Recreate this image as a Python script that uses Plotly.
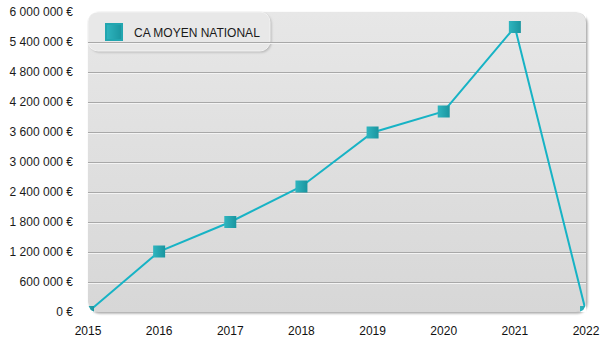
import base64
import plotly.graph_objects as go

# Average national turnover per year
years = [2015, 2016, 2017, 2018, 2019, 2020, 2021, 2022]
ca_moyen = [0, 1210000, 1800000, 2510000, 3590000, 4010000, 5700000, 0]
series_name = "CA MOYEN NATIONAL"
y_ticks = [0, 600000, 1200000, 1800000, 2400000, 3000000,
           3600000, 4200000, 4800000, 5400000, 6000000]
y_labels = [f"{v:,}".replace(",", " ") + " €" for v in y_ticks]

FIG_W, FIG_H = 600, 350
L, T, R, B = 88, 12, 14, 38
PW, PH = FIG_W - L - R, FIG_H - T - B
RAD = 10

LINE_COLOR = "#17b3c5"
MARKER_LIGHT, MARKER_DARK = "#2fb5bf", "#1a959f"
FONT = "Arial, Liberation Sans, sans-serif"

# Rounded plot panel with vertical gradient, soft shadow and legend card
svg = f'''<svg xmlns="http://www.w3.org/2000/svg" width="{FIG_W}" height="{FIG_H}" viewBox="0 0 {FIG_W} {FIG_H}">
<defs>
<linearGradient id="bg" x1="0" y1="0" x2="0" y2="1">
<stop offset="0" stop-color="#e7e7e7"/><stop offset="1" stop-color="#d7d7d7"/>
</linearGradient>
<filter id="sh" x="-5%" y="-5%" width="110%" height="110%"><feGaussianBlur stdDeviation="1"/></filter>
</defs>
<rect x="{L + 1.5}" y="{T + 1.5}" width="{PW}" height="{PH}" rx="{RAD}" fill="#a4a4a4" filter="url(#sh)"/>
<rect x="{L}" y="{T}" width="{PW}" height="{PH}" rx="{RAD}" fill="url(#bg)"/>
<rect x="{L + 1.5}" y="{T + 1.5}" width="182" height="39" rx="{RAD}" fill="#b8b8b8" filter="url(#sh)"/>
<rect x="{L}" y="{T}" width="182" height="39" rx="{RAD}" fill="#e8e8e8" stroke="#f2f2f2" stroke-width="1"/>
</svg>'''
svg_uri = "data:image/svg+xml;base64," + base64.b64encode(svg.encode()).decode()

px_val = 6000000 / PH

fig = go.Figure()

# Empty traces bind the gridline axes so they are drawn
fig.add_trace(go.Scatter(x=[None], y=[None], yaxis="y2", showlegend=False, hoverinfo="skip"))
fig.add_trace(go.Scatter(x=[None], y=[None], yaxis="y3", showlegend=False, hoverinfo="skip"))

fig.add_trace(go.Scatter(x=years, y=ca_moyen, mode="lines",
                         line=dict(color=LINE_COLOR, width=2),
                         showlegend=False, hoverinfo="skip"))
fig.add_trace(go.Scatter(x=years, y=ca_moyen, mode="markers", name=series_name,
                         showlegend=False,
                         marker=dict(symbol="square", size=12, color=MARKER_LIGHT,
                                     gradient=dict(type="horizontal", color=MARKER_DARK),
                                     line=dict(width=0))))
# Legend entry: larger square swatch, no line
fig.add_trace(go.Scatter(x=[None], y=[None], mode="markers", name=series_name,
                         marker=dict(symbol="square", size=16, color=MARKER_LIGHT,
                                     gradient=dict(type="horizontal", color=MARKER_DARK),
                                     line=dict(width=2, color="#22a6b0"))))

fig.update_layout(
    width=FIG_W, height=FIG_H,
    margin=dict(l=L, r=R, t=T, b=B, pad=0, autoexpand=False),
    paper_bgcolor="white", plot_bgcolor="rgba(0,0,0,0)",
    font=dict(family=FONT, size=12, color="#1a1a1a"),
    showlegend=True,
    legend=dict(x=(94 - L) / PW, y=(T + PH - 32) / PH, xanchor="left", yanchor="middle",
                bgcolor="rgba(0,0,0,0)", borderwidth=0,
                font=dict(family=FONT, size=12, color="#1a1a1a")),
    xaxis=dict(range=[2015, 2022], tickmode="array", tickvals=years,
               showgrid=False, zeroline=False, showline=False, ticks="",
               tickfont=dict(color="#111111"),
               ticklabelstandoff=10, automargin=False, fixedrange=True),
    yaxis=dict(range=[0, 6000000], tickmode="array", tickvals=y_ticks, ticktext=y_labels,
               showgrid=False, zeroline=False, showline=False, ticks="",
               ticklabelstandoff=14, automargin=False, fixedrange=True),
    yaxis2=dict(range=[0, 6000000], overlaying="y", tickvals=y_ticks[1:-1],
                showticklabels=False, showgrid=True, gridcolor="#a8a8a8", gridwidth=1,
                zeroline=False, automargin=False, fixedrange=True),
    yaxis3=dict(range=[px_val, 6000000 + px_val], overlaying="y", tickvals=y_ticks[1:-1],
                showticklabels=False, showgrid=True, gridcolor="#f4f4f4", gridwidth=1,
                zeroline=False, automargin=False, fixedrange=True),
    images=[dict(source=svg_uri, xref="paper", yref="paper",
                 x=-L / PW, y=1 + T / PH, sizex=FIG_W / PW, sizey=FIG_H / PH,
                 xanchor="left", yanchor="top", sizing="stretch", layer="below")],
)

# White masks round off the panel corners above the series
rx, ry = RAD / PW, RAD / PH
corners = [
    f"M 0 1 L {rx} 1 Q 0 1 0 {1 - ry} Z",
    f"M 1 1 L {1 - rx} 1 Q 1 1 1 {1 - ry} Z",
    f"M 0 0 L {rx} 0 Q 0 0 0 {ry} Z",
    f"M 1 0 L {1 - rx} 0 Q 1 0 1 {ry} Z",
]
for p in corners:
    fig.add_shape(type="path", path=p, xref="paper", yref="paper",
                  fillcolor="white", line=dict(width=0), layer="above")

fig.write_html("out.html")
